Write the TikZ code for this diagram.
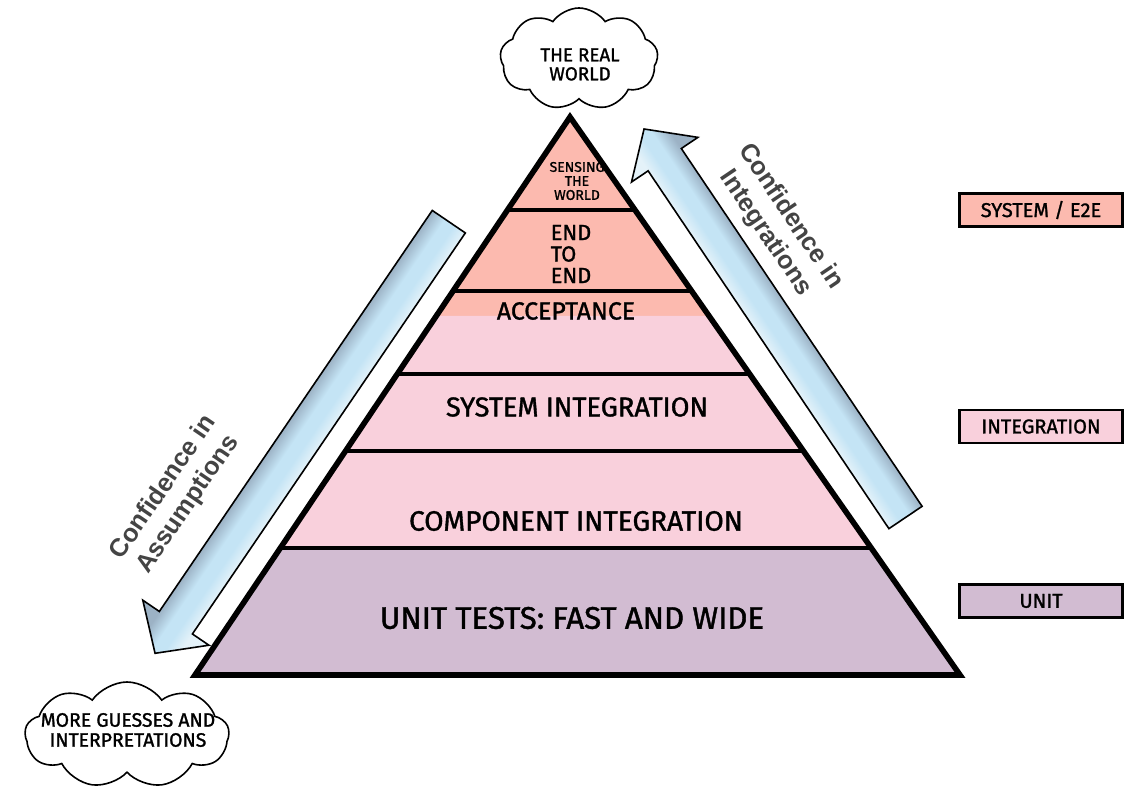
\documentclass[tikz,border=0pt]{standalone}
\usepackage{fontspec}
\usepackage{graphicx}
\setmainfont{Fira Sans}[FakeBold=1.3]
\newfontfamily\arialfont{Liberation Sans}
\usetikzlibrary{calc,shapes.symbols}

\definecolor{salmon}{RGB}{252,186,175}
\definecolor{softpink}{RGB}{249,208,220}
\definecolor{mauve}{RGB}{210,188,210}
\definecolor{arrowdark}{RGB}{156,178,197}
\definecolor{arrowmid}{RGB}{196,228,245}
\definecolor{arrowlight}{RGB}{228,242,249}
\definecolor{labelgrey}{RGB}{68,68,68}

\pgfdeclareverticalshading{skyshade}{100bp}{color(0bp)=(arrowdark); color(37.5bp)=(arrowdark); color(47bp)=(arrowmid); color(54bp)=(arrowmid); color(62.5bp)=(arrowlight); color(100bp)=(arrowlight)}

\tikzset{
    skyarrow/.style={shading=skyshade, draw=black, line width=0.8pt, line join=miter},
    layertext/.style={inner sep=0pt, align=center},
    arrowlabel/.style={inner sep=0pt, align=center, text=labelgrey,
        font=\arialfont\bfseries\fontsize{12.7}{15}\selectfont},
    sidebox/.style={draw, line width=1.4pt, minimum width=81.5pt, minimum height=16.5pt,
        inner sep=0pt, font=\fontsize{10}{10}\selectfont},
    puffcloud/.style={cloud, cloud puffs=9, cloud puff arc=110, aspect=1.6, draw,
        fill=white, line width=0.8pt, inner sep=0pt},
}

\begin{document}
\begin{tikzpicture}[x=0.5pt,y=-0.5pt]
    \useasboundingbox (0,0) rectangle (1139,801);

    %%pyramid
    \coordinate (apex) at (570,117);
    \coordinate (baseL) at (195,675);
    \coordinate (baseR) at (960,675);
    \foreach \lvl/\t in {a/0.1667,b/0.3118,c/0.3566,d/0.4606,e/0.5986,f/0.7724}{
        \coordinate (L\lvl) at ($(apex)!\t!(baseL)$);
        \coordinate (R\lvl) at ($(apex)!\t!(baseR)$);
    }
    \fill[salmon] (apex) -- (Rc) -- (Lc) -- cycle;
    \fill[softpink] (Lc) -- (Rc) -- (Rf) -- (Lf) -- cycle;
    \fill[mauve] (Lf) -- (Rf) -- (baseR) -- (baseL) -- cycle;
    \foreach \lvl in {a,b,d,e,f}
        \draw[line width=2pt] (L\lvl) -- (R\lvl);
    \draw[line width=2.8pt, line join=miter]
        (apex) -- (baseR) -- (baseL) -- cycle;

    %%layer texts
    \node[layertext, font=\fontsize{7}{7}\selectfont] (sensing) at (577,181) {SENSING\\THE\\WORLD};
    \node[layertext, align=left, font=\fontsize{10.9}{10.75}\selectfont] (endtoend) at (571,254) {END\\TO\\END};
    \node[layertext, font=\fontsize{12.4}{12.4}\selectfont] (acceptance) at (566,311) {ACCEPTANCE};
    \node[layertext, font=\fontsize{13.6}{13.6}\selectfont] (sysint) at (577,407) {SYSTEM INTEGRATION};
    \node[layertext, font=\fontsize{14}{14}\selectfont] (compint) at (576,521) {COMPONENT INTEGRATION};
    \node[layertext, font=\fontsize{15.6}{15.6}\selectfont] (unittests) at (572,618) {UNIT TESTS: FAST AND WIDE};

    %%confidence arrows
    \foreach \tx/\ty/\ang/\len in {905.5/517.5/123.94/468.3, 448.8/221.7/235.76/522.1}{
        \begin{scope}[transform canvas={shift={(\tx,\ty)}, rotate=\ang}]
            \shadedraw[skyarrow] (0,-20) -- ({\len-37},-20) -- ({\len-37},-40) -- (\len,0)
                -- ({\len-37},40) -- ({\len-37},20) -- (0,20) -- cycle;
        \end{scope}
    }
    \node[arrowlabel, rotate=-56.06] (intlabel) at (778,225) {Confidence in\\Integrations};
    \node[arrowlabel, rotate=55.76] (asslabel) at (176,496) {Confidence in\\Assumptions};

    %%side legend
    \node[sidebox, fill=salmon] (boxsys) at (1041,210) {SYSTEM / E2E};
    \node[sidebox, fill=softpink] (boxint) at (1041,426.5) {INTEGRATION};
    \node[sidebox, fill=mauve] (boxunit) at (1041,601) {UNIT};

    %%clouds
    \node[puffcloud, minimum width=79pt, minimum height=51pt] (realworld) at (579,59) {};
    \node[layertext, font=\fontsize{9.4}{9.5}\selectfont] (realworldtext) at (580,64.5) {THE REAL\\WORLD};
    \node[puffcloud, minimum width=102pt, minimum height=53pt] (guesses) at (127,735) {};
    \node[layertext, font=\fontsize{9.7}{10}\selectfont] (guessestext) at (128,730) {MORE GUESSES AND\\INTERPRETATIONS};
\end{tikzpicture}
\end{document}
